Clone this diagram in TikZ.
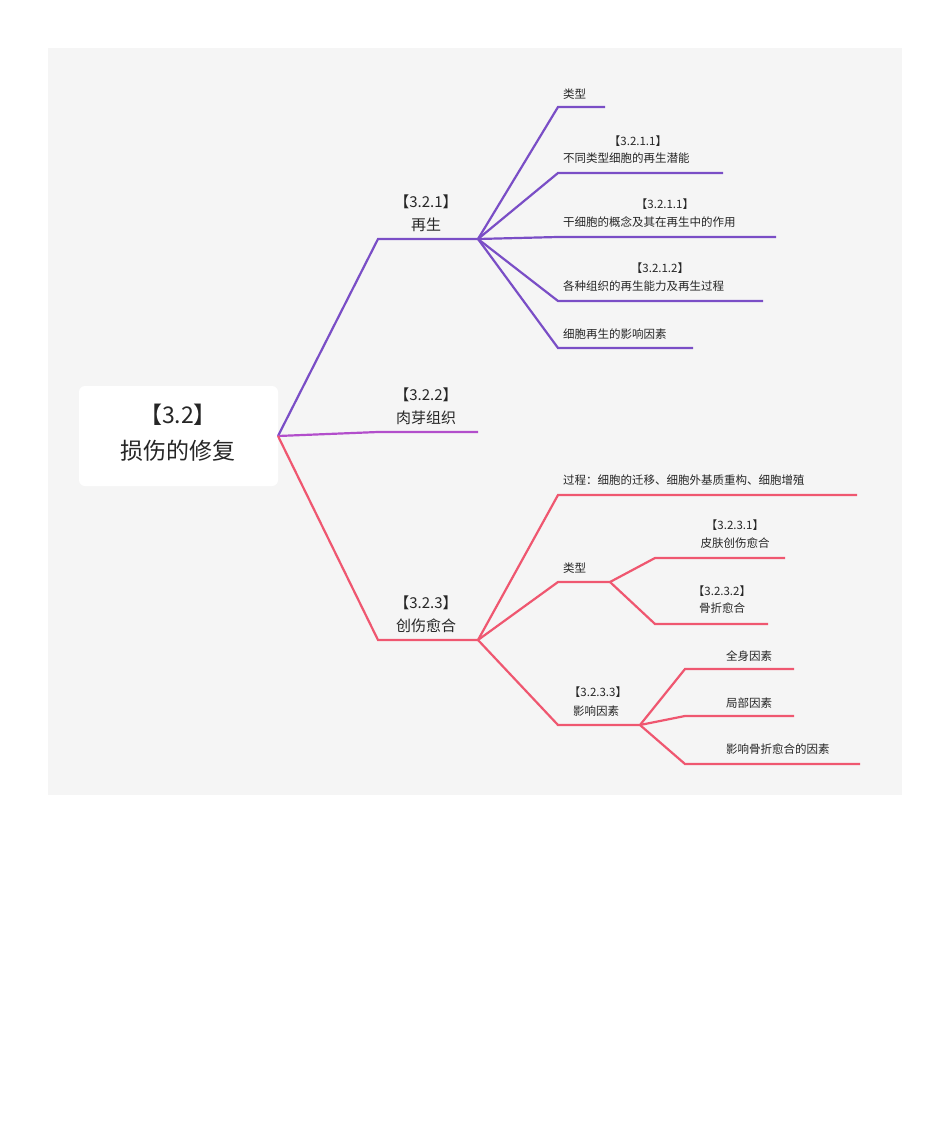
\documentclass[tikz,border=0pt]{standalone}
\usepackage{fontspec}
\setmainfont{Noto Sans CJK SC}
\definecolor{bg}{HTML}{F5F5F5}
\definecolor{pur}{HTML}{7A4EC6}
\definecolor{mag}{HTML}{B24ECB}
\definecolor{red}{HTML}{EF5770}
\newcommand{\brc}[4]{\draw[line width=2.2pt,#4] (#1) .. controls ($(#1)!0.5!(#2)$ |- #1) and ($(#1)!0.5!(#2)$ |- #2) .. (#2) -- (#3);}
\usetikzlibrary{calc}
\begin{document}
\begin{tikzpicture}[x=1pt,y=-1pt,
  sm/.style={font=\fontsize{11.5}{14}\selectfont,inner sep=0pt,text=black!85},
  smL/.style={sm,anchor=west},
  md/.style={font=\fontsize{15}{18}\selectfont,inner sep=0pt,text=black!85}]
\useasboundingbox (0,0) rectangle (950,1147);
\fill[bg] (48,48) rectangle (902,795);
\node[fill=white,rounded corners=6pt,minimum width=199pt,minimum height=100pt] (root) at (178.5,436) {};
\node[font=\fontsize{23}{28}\selectfont,text=black!85] (rt) at (178,415) {【3.2】};
\node[font=\fontsize{23}{28}\selectfont,text=black!85] (rt2) at (178,451) {损伤的修复};
\coordinate (R) at (278,436);
% purple
\coordinate (a1) at (378,239); \coordinate (a2) at (478,239);
\brc{R}{a1}{a2}{pur}
\node[md] (l1) at (426,202) {【3.2.1】}; \node[md] (l1b) at (426,225) {再生};
\coordinate (b1) at (558,107); \coordinate (b1e) at (605,107); \brc{a2}{b1}{b1e}{pur}
\node[smL] (t1) at (563,94) {类型};
\coordinate (b2) at (558,173); \coordinate (b2e) at (723,173); \brc{a2}{b2}{b2e}{pur}
\node[sm] (t2a) at (638,141) {【3.2.1.1】}; \node[smL] (t2) at (563,158) {不同类型细胞的再生潜能};
\coordinate (b3) at (558,237); \coordinate (b3e) at (776,237); \brc{a2}{b3}{b3e}{pur}
\node[sm] (t3a) at (665,204) {【3.2.1.1】}; \node[smL] (t3) at (563,222) {干细胞的概念及其在再生中的作用};
\coordinate (b4) at (558,301); \coordinate (b4e) at (763,301); \brc{a2}{b4}{b4e}{pur}
\node[sm] (t4a) at (660,268) {【3.2.1.2】}; \node[smL] (t4) at (563,286) {各种组织的再生能力及再生过程};
\coordinate (b5) at (558,348); \coordinate (b5e) at (693,348); \brc{a2}{b5}{b5e}{pur}
\node[smL] (t5) at (563,334) {细胞再生的影响因素};
% magenta
\coordinate (m1) at (378,432); \coordinate (m2) at (478,432); \brc{R}{m1}{m2}{mag}
\node[md] (l2) at (426,395) {【3.2.2】}; \node[md] (l2b) at (426,418) {肉芽组织};
% red
\coordinate (c1) at (378,640); \coordinate (c2) at (478,640); \brc{R}{c1}{c2}{red}
\node[md] (l3) at (426,603) {【3.2.3】}; \node[md] (l3b) at (426,626) {创伤愈合};
\coordinate (d1) at (558,495); \coordinate (d1e) at (857,495); \brc{c2}{d1}{d1e}{red}
\node[smL] (u1) at (563,480) {过程：细胞的迁移、细胞外基质重构、细胞增殖};
\coordinate (d2) at (558,582); \coordinate (d2e) at (610,582); \brc{c2}{d2}{d2e}{red}
\node[smL] (u2) at (563,568) {类型};
\coordinate (e1) at (655,558); \coordinate (e1e) at (785,558); \brc{d2e}{e1}{e1e}{red}
\node[sm] (v1a) at (735,525) {【3.2.3.1】}; \node[sm] (v1) at (735,543) {皮肤创伤愈合};
\coordinate (e2) at (655,624); \coordinate (e2e) at (768,624); \brc{d2e}{e2}{e2e}{red}
\node[sm] (v2a) at (722,591) {【3.2.3.2】}; \node[sm] (v2) at (722,608) {骨折愈合};
\coordinate (d3) at (558,725); \coordinate (d3e) at (640,725); \brc{c2}{d3}{d3e}{red}
\node[sm] (u3a) at (598,692) {【3.2.3.3】}; \node[sm] (u3) at (596,711) {影响因素};
\coordinate (f1) at (685,669); \coordinate (f1e) at (794,669); \brc{d3e}{f1}{f1e}{red}
\node[smL] (w1) at (726,656) {全身因素};
\coordinate (f2) at (685,716); \coordinate (f2e) at (794,716); \brc{d3e}{f2}{f2e}{red}
\node[smL] (w2) at (726,703) {局部因素};
\coordinate (f3) at (685,764); \coordinate (f3e) at (860,764); \brc{d3e}{f3}{f3e}{red}
\node[smL] (w3) at (726,749) {影响骨折愈合的因素};
\end{tikzpicture}
\end{document}
